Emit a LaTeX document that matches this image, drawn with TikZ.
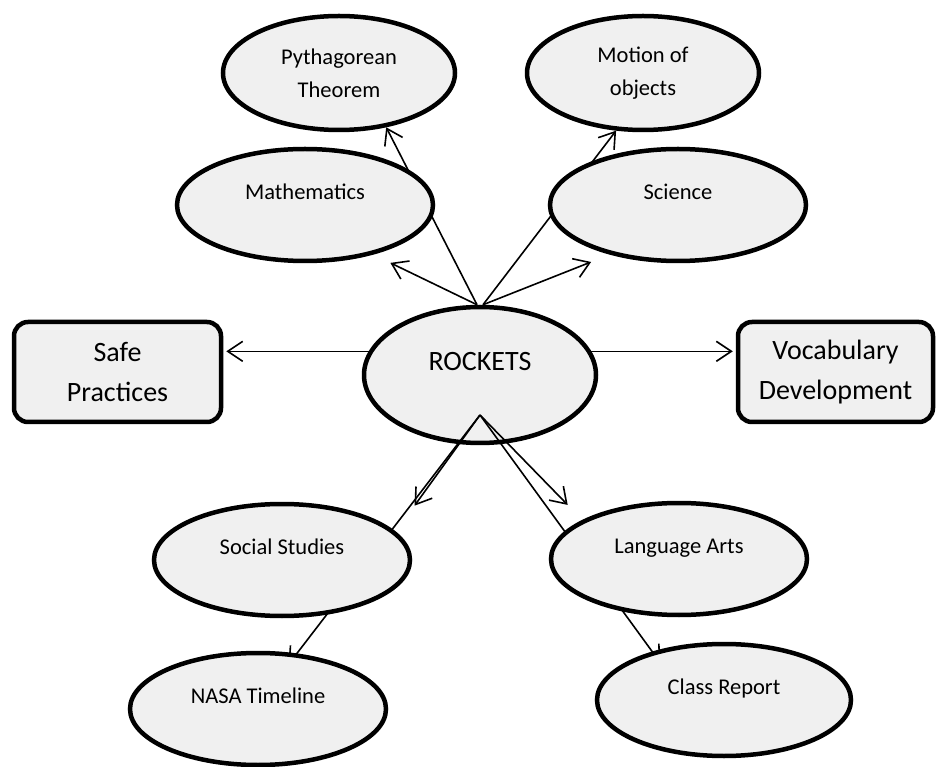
\documentclass[tikz,border=0pt]{standalone}
\usepackage{fontspec}
\setmainfont{Carlito}
\usetikzlibrary{shapes.geometric,arrows.meta}
\definecolor{bubble}{RGB}{240,240,240}
\pgfdeclarelayer{back}
\pgfdeclarelayer{mid}
\pgfsetlayers{back,mid,main}

\begin{document}
\begin{tikzpicture}[x=1pt,y=-1pt,
  topic/.style={ellipse,draw,fill=bubble,line width=4.5pt,inner sep=0pt,
    minimum width=256pt,minimum height=112pt,
    font=\fontsize{22.5}{33}\selectfont,text height=16pt,text depth=27pt},
  sub/.style={ellipse,draw,fill=bubble,line width=4.5pt,inner sep=0pt,
    minimum width=232pt,minimum height=114pt,align=center,
    font=\fontsize{22.5}{33}\selectfont},
  side/.style={rectangle,rounded corners=14pt,draw,fill=bubble,line width=4.5pt,
    minimum height=100pt,align=center,font=\fontsize{28}{40}\selectfont},
  arr/.style={line width=1.6pt,-{Straight Barb[length=15pt,width=20pt]}}]
\useasboundingbox (0,0) rectangle (938,767);

\begin{pgfonlayer}{back}
\node[topic,minimum width=232pt,minimum height=136pt,font=\fontsize{28}{40}\selectfont,
  text height=20pt,text depth=28pt] (rockets) at (480,375) {ROCKETS};
\end{pgfonlayer}

\node[sub] (pyth) at (339,73) {Pythagorean\\Theorem};
\node[sub] (motion) at (643,73) {Motion of\\objects};
\node[topic] (math) at (305,205) {Mathematics};
\node[topic] (sci) at (678,205) {Science};
\node[topic] (social) at (282,560) {Social Studies};
\node[topic] (lang) at (679,559) {Language Arts};
\node[topic] (nasa) at (258,709) {NASA Timeline};
\node[topic,minimum width=254pt] (report) at (724,700) {Class Report};
\node[side,minimum width=207pt] (safe) at (117.5,372) {Safe\\Practices};
\node[side,minimum width=195pt] (vocab) at (835.5,372) {Vocabulary\\Development};
\coordinate (apex) at ([yshift=-40pt]rockets.center);

\begin{pgfonlayer}{mid}
\draw[arr] ([xshift=-3pt]rockets.north) -- (pyth.-49);
\draw[arr,shorten >=19pt] ([xshift=-3pt]rockets.north) -- (math.-36);
\draw[arr] ([xshift=3pt]rockets.north) -- (motion.245);
\draw[arr,shorten >=20pt] ([xshift=3pt]rockets.north) -- (sci.216);
\draw[arr,shorten >=32pt] (apex) -- (social.14);
\draw[arr,shorten >=-14pt] (apex) -- (nasa.55);
\draw[arr,shorten >=21pt] (apex) -- (lang.158);
\draw[arr,shorten >=-14pt] (apex) -- (report.146);
\draw[arr,shorten >=3pt] (rockets.168) -- (rockets.168 -| safe.east);
\draw[arr,shorten >=3pt] (rockets.12) -- (rockets.12 -| vocab.west);
\end{pgfonlayer}
\end{tikzpicture}
\end{document}
